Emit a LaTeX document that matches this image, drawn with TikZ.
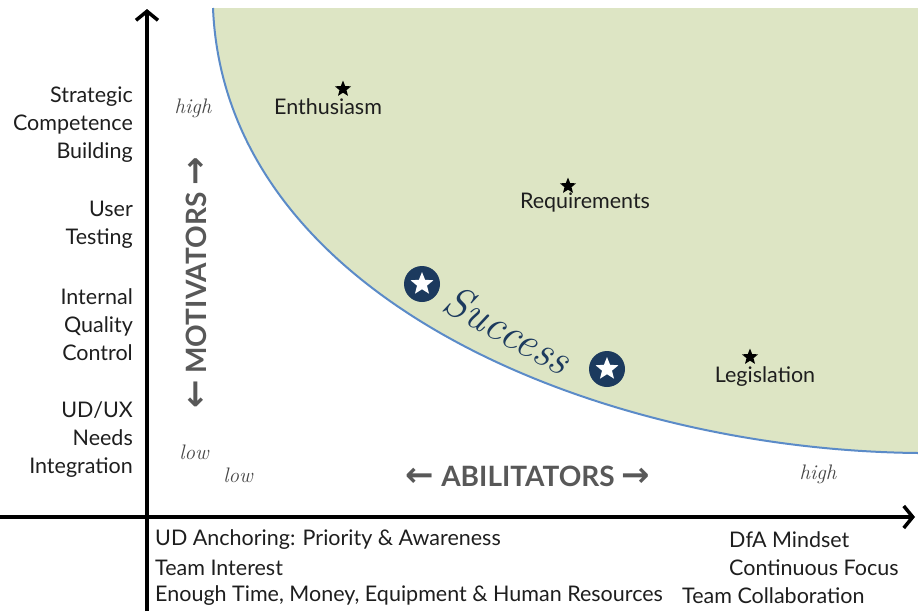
\documentclass[tikz,border=0pt]{standalone}
\usepackage{fontspec}
\newfontfamily\labelfont{Lato}
\newfontfamily\arrowfont{DejaVu Sans}
\usetikzlibrary{arrows.meta,shapes.geometric}

\definecolor{zonegreen}{HTML}{DDE5C4}
\definecolor{curveblue}{HTML}{5B8BC8}
\definecolor{badgenavy}{HTML}{1C3A5E}
\definecolor{textgray}{HTML}{1E1E1E}
\definecolor{axisgray}{HTML}{585858}

\newcommand{\axisarrow}[1]{{\arrowfont\bfseries\fontsize{34}{28}\selectfont #1}}

\tikzset{
  lbl/.style={font=\labelfont\fontsize{21.5}{28}\selectfont, text=textgray, inner sep=0pt},
  sidelbl/.style={lbl, align=right, anchor=east},
  baselbl/.style={lbl, anchor=west},
  levellbl/.style={font=\fontsize{21}{21}\selectfont\itshape, text=axisgray!80!black, inner sep=0pt},
  axislbl/.style={font=\labelfont\bfseries\fontsize{28}{28}\selectfont, text=axisgray, inner sep=0pt},
  smallstar/.style={star, star points=5, star point ratio=2.3, fill=black, minimum size=17pt, inner sep=0pt},
  badge/.style={circle, fill=badgenavy, minimum size=36pt, inner sep=0pt},
  badgestar/.style={star, star points=5, star point ratio=2.3, fill=white, minimum size=24pt, inner sep=0pt},
}

\begin{document}
\begin{tikzpicture}[x=1pt,y=-1pt]
   \useasboundingbox (0,0) rectangle (918,611);

   % success zone
   \fill[zonegreen] (213,8) .. controls (225,300) and (600,450) .. (918,453) -- (918,8) -- cycle;
   \draw[curveblue, line width=2pt] (213,8) .. controls (225,300) and (600,450) .. (918,453);

   % axes
   \coordinate (origin) at (147,517);
   \coordinate (ybot) at (147,611);
   \coordinate (ytop) at (147,9);
   \coordinate (xleft) at (0,517);
   \coordinate (xright) at (915,517);
   \draw[line width=3.5pt, -{Straight Barb[length=9pt,width=22pt]}] (ybot) -- (ytop);
   \draw[line width=3.5pt, -{Straight Barb[length=9pt,width=22pt]}] (xleft) -- (xright);

   % motivators
   \node[sidelbl] (strategic) at (133,125) {Strategic\\Competence\\Building};
   \node[sidelbl] (testing) at (133,225) {User\\Testing};
   \node[sidelbl] (quality) at (133,325) {Internal\\Quality\\Control};
   \node[sidelbl] (needs) at (133,440) {UD/UX\\Needs\\Integration};

   % abilitators
   \node[baselbl] (anchoring) at (155,540) {UD Anchoring: Priority \& Awareness};
   \node[baselbl] (interest) at (155,568) {Team Interest};
   \node[baselbl] (resources) at (155,596) {Enough Time, Money, Equipment \& Human Resources};
   \node[baselbl] (mindset) at (729,540) {DfA Mindset};
   \node[baselbl] (focus) at (729,568) {Continuous Focus};
   \node[baselbl] (collab) at (682,596) {Team Collaboration};

   % axis names and levels
   \node[axislbl, rotate=90] (motivators) at (196,283) {\axisarrow{←} MOTIVATORS \axisarrow{→}};
   \node[axislbl] (abilitators) at (528,476) {\axisarrow{←} ABILITATORS \axisarrow{→}};
   \node[levellbl] (yhigh) at (193,108) {high};
   \node[levellbl] (ylow) at (194,452) {low};
   \node[levellbl] (xlow) at (238,475) {low};
   \node[levellbl] (xhigh) at (818,474) {high};

   % drivers
   \node[lbl] (enthusiasm) at (328,107) {Enthusiasm};
   \node[lbl] (requirements) at (585,202) {Requirements};
   \node[lbl] (legislation) at (765,377) {Legislation};
   \node[smallstar] (enthstar) at (343,89) {};
   \node[smallstar] (reqstar) at (568,186) {};
   \node[smallstar] (legstar) at (750,357) {};

   % success
   \node[badge] (badgeA) at (422,284) {};
   \node[badgestar] at (badgeA) {};
   \node[badge] (badgeB) at (607,369) {};
   \node[badgestar] at (badgeB) {};
   \node[font=\fontsize{44}{44}\selectfont\itshape, text=badgenavy, rotate=-29, inner sep=0pt] (success) at (508,330) {Success};
\end{tikzpicture}
\end{document}
